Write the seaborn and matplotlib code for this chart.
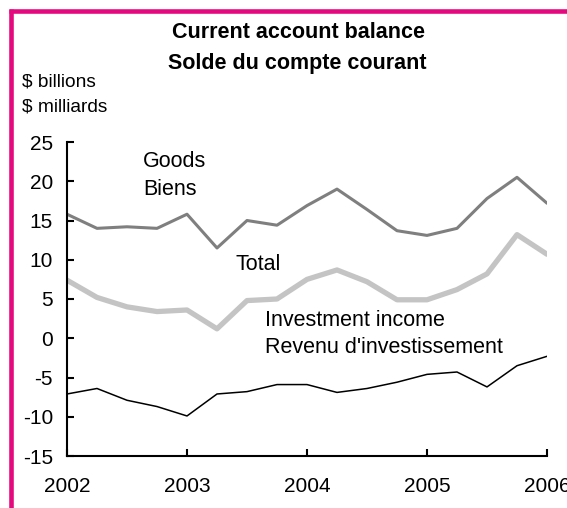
import numpy as np
import pandas as pd
import matplotlib
matplotlib.use('Agg')
import matplotlib.pyplot as plt
import seaborn as sns
from matplotlib.lines import Line2D

# Quarterly data, 2002Q1 - 2006Q1 ($ billions)
quarters = [2002 + 0.25 * i for i in range(17)]
goods = [15.8, 14.0, 14.2, 14.0, 15.8, 11.5, 15.0, 14.4, 16.9, 19.0,
         16.4, 13.7, 13.1, 14.0, 17.8, 20.5, 17.2]
total = [7.4, 5.2, 4.0, 3.4, 3.6, 1.2, 4.8, 5.0, 7.5, 8.7,
         7.2, 4.9, 4.9, 6.2, 8.2, 13.2, 10.7]
invest = [-7.1, -6.4, -7.9, -8.7, -9.9, -7.1, -6.8, -5.9, -5.9, -6.9,
          -6.4, -5.6, -4.6, -4.3, -6.2, -3.5, -2.3]
year_ticks = [2002, 2003, 2004, 2005, 2006]
y_ticks = [-15, -10, -5, 0, 5, 10, 15, 20, 25]

df = pd.DataFrame({
    'quarter': quarters * 3,
    'value': goods + total + invest,
    'series': ['goods'] * 17 + ['total'] * 17 + ['invest'] * 17,
})

sns.set_style('ticks')
plt.rcParams['font.family'] = ['Liberation Sans', 'DejaVu Sans']
plt.rcParams['axes.unicode_minus'] = False
plt.rcParams['text.color'] = 'black'

fig = plt.figure(figsize=(5.67, 5.08), dpi=100)
ax = fig.add_axes([67 / 567, 1 - 456 / 508, 480 / 567, 314 / 508])

palette = {'goods': '#7f7f7f', 'total': '#c4c4c4', 'invest': '#000000'}
widths = {'goods': 2.2, 'total': 3.8, 'invest': 1.1}
for name in ['total', 'goods', 'invest']:
    sns.lineplot(data=df[df['series'] == name], x='quarter', y='value',
                 color=palette[name], linewidth=widths[name], ax=ax,
                 legend=False)

ax.set_xlim(2002, 2006)
ax.set_ylim(-15, 25)
ax.set_xticks(year_ticks)
ax.set_xticklabels([str(y) for y in year_ticks])
ax.set_yticks(y_ticks)
ax.set_xlabel('')
ax.set_ylabel('')
ax.tick_params(axis='both', direction='in', length=5, width=1.5,
               labelsize=15, colors='black')
ax.tick_params(axis='x', pad=15)
ax.tick_params(axis='y', pad=10)
for s in ['top', 'right']:
    ax.spines[s].set_visible(False)
for s in ['left', 'bottom']:
    ax.spines[s].set_linewidth(1.5)
    ax.spines[s].set_color('black')

# Series labels
label_kw = dict(fontsize=15.5, va='baseline', ha='left', color='black')
ax.text(2002.633, 21.85, 'Goods', **label_kw)
ax.text(2002.633, 18.25, 'Biens', **label_kw)
ax.text(2003.40, 8.7, 'Total', **label_kw)
ax.text(2003.65, 1.56, 'Investment income', **label_kw)
ax.text(2003.65, -1.88, "Revenu d'investissement", **label_kw)

# Titles
fig.text(298 / 567, 1 - 32 / 508, 'Current account balance', fontsize=15.5,
         fontweight='bold', ha='center', va='center', color='black')
fig.text(297 / 567, 1 - 63 / 508, 'Solde du compte courant', fontsize=15.5,
         fontweight='bold', ha='center', va='center', color='black')
fig.text(22 / 567, 1 - 82 / 508, '$ billions', fontsize=13.8, ha='left',
         va='center', color='black')
fig.text(22 / 567, 1 - 107 / 508, '$ milliards', fontsize=13.8, ha='left',
         va='center', color='black')

# Magenta frame (left and top edges)
frame_color = '#e5097f'
fig.add_artist(Line2D([10.5 / 567, 10.5 / 567], [0, 1 - 8.5 / 508],
                      transform=fig.transFigure, color=frame_color,
                      linewidth=3.3, solid_capstyle='butt'))
fig.add_artist(Line2D([8.5 / 567, 1], [1 - 10.5 / 508, 1 - 10.5 / 508],
                      transform=fig.transFigure, color=frame_color,
                      linewidth=3.3, solid_capstyle='butt'))

fig.savefig('out.png', dpi=100)
